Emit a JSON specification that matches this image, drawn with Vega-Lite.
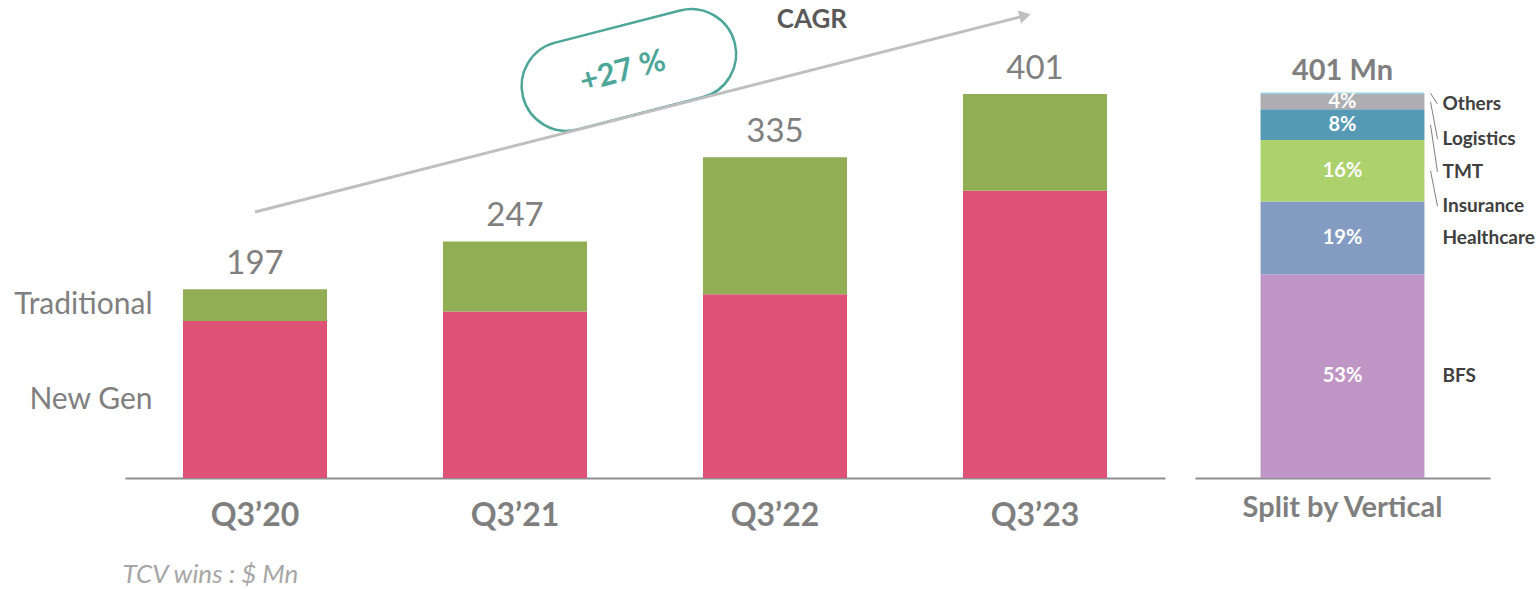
{
  "$schema": "https://vega.github.io/schema/vega-lite/v6.json",
  "background": "white",
  "padding": {"left": 13, "top": 4, "right": 0, "bottom": 0},
  "config": {"font": "Lato", "view": {"stroke": null}},
  "spacing": 30,
  "resolve": {"scale": {"color": "independent", "y": "independent", "x": "independent"}},
  "datasets": {
    "bars": [
      {"quarter": "Q3’20", "segment": "New Gen", "value": 164},
      {"quarter": "Q3’20", "segment": "Traditional", "value": 33},
      {"quarter": "Q3’21", "segment": "New Gen", "value": 174},
      {"quarter": "Q3’21", "segment": "Traditional", "value": 73},
      {"quarter": "Q3’22", "segment": "New Gen", "value": 192},
      {"quarter": "Q3’22", "segment": "Traditional", "value": 143},
      {"quarter": "Q3’23", "segment": "New Gen", "value": 300},
      {"quarter": "Q3’23", "segment": "Traditional", "value": 101}
    ],
    "arrow": [{"x": 0, "y": 277.8}, {"x": 2.942, "y": 481.4}],
    "head": [{"x": 2.962, "y": 482.8}],
    "pill": [{"x": 1.438, "y": 426.1}],
    "cagr": [{"x": 1.415, "y": 424, "t": "+27 %"}],
    "cagrTitle": [{"x": 2.142, "y": 478.8, "t": "CAGR"}],
    "verticals": [
      {"panel": "Split by Vertical", "segment": "BFS", "pct": 53, "rank": 1, "label_y": 26.5, "leader": false},
      {"panel": "Split by Vertical", "segment": "Healthcare", "pct": 19, "rank": 2, "label_y": 62.5, "leader": false},
      {"panel": "Split by Vertical", "segment": "Insurance", "pct": 16, "rank": 3, "label_y": 70.8, "leader": true},
      {"panel": "Split by Vertical", "segment": "TMT", "pct": 8, "rank": 4, "label_y": 79.7, "leader": true},
      {"panel": "Split by Vertical", "segment": "Logistics", "pct": 4, "rank": 5, "label_y": 88.3, "leader": true},
      {"panel": "Split by Vertical", "segment": "Others", "pct": 0.4, "rank": 6, "label_y": 97.4, "leader": true}
    ]
  },
  "hconcat": [
    {
      "width": 1040,
      "height": 474,
      "resolve": {"scale": {"x": "independent"}, "axis": {"x": "independent"}},
      "layer": [
        {
          "data": {"name": "bars"},
          "encoding": {
            "x": {
              "field": "quarter", "type": "nominal",
              "sort": ["Q3’20", "Q3’21", "Q3’22", "Q3’23"],
              "scale": {"paddingInner": 0.446, "paddingOuter": 0.223},
              "axis": {
                "labelAngle": 0, "labelFontSize": 32, "labelFontWeight": "bold", "labelColor": "#7F7F7F",
                "labelPadding": 22, "ticks": false, "tickSize": 0, "domainColor": "#8E8E92", "domainWidth": 2, "grid": false,
                "title": "TCV wins : $ Mn", "titleFontSize": 26, "titleFontStyle": "italic", "titleFontWeight": "normal",
                "titleColor": "#A6A6A6", "titleAnchor": "start", "titleAlign": "left", "titleX": -3, "titleY": 104,
                "titleBaseline": "alphabetic"
              }
            }
          },
          "layer": [
            {
              "mark": {"type": "bar"},
              "encoding": {
                "y": {
                  "field": "value", "type": "quantitative", "stack": "zero",
                  "scale": {"domain": [0, 495], "nice": false},
                  "axis": {
                    "values": [81.5, 180.7],
                    "labelExpr": "datum.value > 100 ? 'Traditional' : 'New Gen'",
                    "title": null, "domain": false, "ticks": false, "tickSize": 0, "grid": false,
                    "labelPadding": -27, "labelFontSize": 30, "labelColor": "#7F7F7F",
                    "labelBaseline": "middle", "labelFontWeight": "normal"
                  }
                },
                "color": {
                  "field": "segment", "type": "nominal",
                  "scale": {"domain": ["New Gen", "Traditional"], "range": ["#DF5177", "#92AE55"]},
                  "legend": null
                },
                "order": {"field": "segment", "type": "nominal", "sort": "ascending"}
              }
            },
            {
              "transform": [{"aggregate": [{"op": "sum", "field": "value", "as": "total"}], "groupby": ["quarter"]}],
              "mark": {"type": "text", "fontSize": 33, "color": "#7F7F7F", "baseline": "alphabetic", "dy": -15},
              "encoding": {
                "y": {"field": "total", "type": "quantitative"},
                "text": {"field": "total", "type": "quantitative"}
              }
            }
          ]
        },
        {
          "encoding": {
            "x": {"field": "x", "type": "quantitative", "scale": {"domain": [-0.5, 3.5], "nice": false, "zero": false}, "axis": null},
            "y": {
              "field": "y", "type": "quantitative", "scale": {"domain": [0, 495], "nice": false},
              "axis": {
                "values": [81.5, 180.7],
                "labelExpr": "datum.value > 100 ? 'Traditional' : 'New Gen'",
                "title": null, "domain": false, "ticks": false, "tickSize": 0, "grid": false,
                "labelPadding": -27, "labelFontSize": 30, "labelColor": "#7F7F7F",
                "labelBaseline": "middle", "labelFontWeight": "normal"
              }
            }
          },
          "layer": [
            {"data": {"name": "pill"}, "mark": {"type": "point", "shape": "M -0.59 -0.41 L 0.59 -0.41 A 0.41 0.41 0 0 1 0.59 0.41 L -0.59 0.41 A 0.41 0.41 0 0 1 -0.59 -0.41 Z", "size": 47742, "angle": -14.4, "filled": false, "stroke": "#4EA699", "strokeWidth": 2.5, "opacity": 1}},
            {"data": {"name": "arrow"}, "mark": {"type": "line", "stroke": "#BFBFBF", "strokeWidth": 3}},
            {"data": {"name": "head"}, "mark": {"type": "point", "shape": "triangle-right", "angle": -14.3, "filled": true, "color": "#BFBFBF", "size": 180, "opacity": 1}},
            {"data": {"name": "cagr"}, "mark": {"type": "text", "angle": -15, "fontSize": 31, "fontWeight": "bold", "color": "#4EA699", "baseline": "middle"}, "encoding": {"text": {"field": "t"}}},
            {"data": {"name": "cagrTitle"}, "mark": {"type": "text", "fontSize": 26, "fontWeight": "bold", "color": "#595959", "baseline": "middle"}, "encoding": {"text": {"field": "t"}}}
          ]
        }
      ]
    },
    {
      "width": 295,
      "height": 474,
      "data": {"name": "verticals"},
      "encoding": {
        "x": {
          "field": "panel", "type": "nominal",
          "scale": {"paddingInner": 0, "paddingOuter": 0.4, "align": 0.5},
          "axis": {
            "labelAngle": 0, "labelFontSize": 29, "labelFontWeight": "bold", "labelColor": "#7F7F7F",
            "labelPadding": 15, "labelLimit": 400, "ticks": false, "tickSize": 0, "domainColor": "#8E8E92", "domainWidth": 2,
            "grid": false, "title": null
          }
        }
      },
      "layer": [
        {
          "mark": {"type": "bar"},
          "encoding": {
            "y": {"field": "pct", "type": "quantitative", "stack": "zero", "scale": {"domain": [0, 123.44], "nice": false}, "axis": null},
            "color": {
              "field": "segment", "type": "nominal",
              "scale": {"domain": ["BFS", "Healthcare", "Insurance", "TMT", "Logistics", "Others"], "range": ["#BF95C5", "#849CC2", "#ADD16C", "#5699B5", "#AEAEB2", "#9DD6E3"]},
              "legend": null
            },
            "order": {"field": "rank", "type": "quantitative"}
          }
        },
        {
          "transform": [
            {"stack": "pct", "groupby": ["panel"], "sort": [{"field": "rank"}], "as": ["p0", "p1"]},
            {"calculate": "(datum.p0 + datum.p1) / 2", "as": "mid"},
            {"calculate": "datum.pct + '%'", "as": "share"},
            {"filter": "datum.segment !== 'Others'"}
          ],
          "mark": {"type": "text", "fontSize": 20, "fontWeight": "bold", "color": "white", "baseline": "middle"},
          "encoding": {
            "y": {"field": "mid", "type": "quantitative"},
            "text": {"field": "share"}
          }
        },
        {
          "transform": [{"aggregate": [{"op": "sum", "field": "pct", "as": "total"}], "groupby": ["panel"]}],
          "mark": {"type": "text", "text": "401 Mn", "fontSize": 29, "fontWeight": "bold", "color": "#7F7F7F", "baseline": "middle", "dy": -21},
          "encoding": {"y": {"field": "total", "type": "quantitative"}}
        },
        {
          "mark": {"type": "text", "fontSize": 19, "fontWeight": "bold", "color": "#404040", "align": "left", "baseline": "middle", "dx": 100},
          "encoding": {
            "y": {"field": "label_y", "type": "quantitative"},
            "text": {"field": "segment"}
          }
        },
        {
          "transform": [
            {"stack": "pct", "groupby": ["panel"], "sort": [{"field": "rank"}], "as": ["p0", "p1"]},
            {"calculate": "(datum.p0 + datum.p1) / 2", "as": "mid"},
            {"filter": "datum.leader"}
          ],
          "mark": {"type": "rule", "color": "#7F7F7F", "strokeWidth": 1, "xOffset": 88, "x2Offset": 95},
          "encoding": {
            "x2": {"field": "panel"},
            "y": {"field": "mid", "type": "quantitative"},
            "y2": {"field": "label_y"}
          }
        }
      ]
    }
  ]
}
